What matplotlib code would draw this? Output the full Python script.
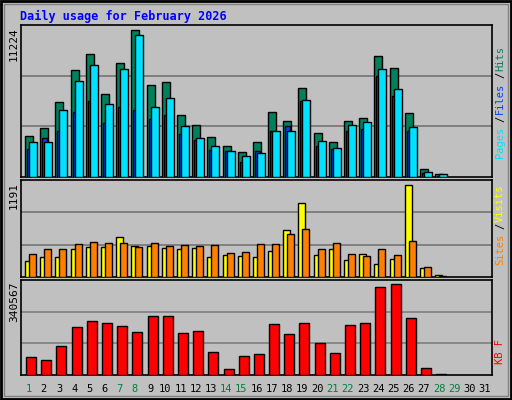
import matplotlib
matplotlib.use("Agg")
import matplotlib.pyplot as plt
import numpy as np

days = list(range(1, 32))
hits_y = [135,127,101,69,53,93,62,29,84,81,114,124,136,145,151,141,111,120,87,132,141,120,117,55,67,112,168,173]
files_y = [141,141,109,80,64,103,68,34,106,97,125,137,145,150,155,152,130,130,99,140,147,124,121,68,88,126,171,173]
pages_y = [148,137,130,111,100,122,106,109,118,114,133,139,149,150,161,150,130,125,100,145,148,130,128,75,95,130,172,175]
hits = [round((176-y)/147*11224) for y in hits_y]
files = [round((176-y)/147*11224) for y in files_y]
pages = [round((176-y)/147*11224) for y in pages_y]
visits_y = [260,256,256,248,246,246,236,245,245,247,248,247,256,254,255,256,250,229,202,254,248,259,253,263,258,184,267,274]
sites_y = [253,248,248,243,241,242,242,246,242,245,244,245,244,252,251,243,243,233,228,248,242,253,255,248,254,240,266,275]
visits = [round((276-y)/92*1191) for y in visits_y]
sites = [round((276-y)/92*1191) for y in sites_y]
kb_y = [357,360,346,327,321,323,326,332,316,316,333,331,352,369,356,354,324,334,323,343,353,325,323,287,284,318,368,374]
kb = [round((375-y)/91*340567) for y in kb_y]
green_days = [1,7,8,14,15,21,22,28,29]

BG = "#C0C0C0"
fig = plt.figure(figsize=(5.12, 4.0), dpi=100, facecolor=BG)
W, H = 512, 400
def ax_at(x0, y0, x1, y1):
    ax = fig.add_axes([x0/W, 1-y1/H, (x1-x0)/W, (y1-y0)/H])
    ax.set_facecolor(BG)
    ax.set_xlim(0.5, 31.5)
    ax.set_xticks([]); ax.set_yticks([])
    for s in ax.spines.values():
        s.set_color("black"); s.set_linewidth(1.2)
    return ax

slot = 15.2
def bars(ax, vals, l, r, color, top):
    n = len(vals)
    x = np.arange(1, n+1) - 0.5 + (l+r)/2/slot
    ax.bar(x, vals, width=(r-l)/slot, color=color, edgecolor="black", linewidth=1, zorder=3)
    ax.set_ylim(0, top)
    for f in (1/3, 2/3):
        ax.axhline(top*f, color="#808080", lw=1.2, zorder=1)

mono = "DejaVu Sans Mono"
ax1 = ax_at(21, 25, 492, 177)
top1 = max(hits)*152/147
bars(ax1, hits, 4, 12, "#00805C", top1)
bars(ax1, pages, 6, 11, "#0040FF", top1)
bars(ax1, files, 8, 16, "#00E0FF", top1)
ax2 = ax_at(21, 180, 492, 277)
top2 = max(visits)*97/92
bars(ax2, visits, 4, 11, "#FFFF00", top2)
bars(ax2, sites, 8, 15, "#FF8000", top2)
ax3 = ax_at(21, 280, 492, 375)
top3 = max(kb)*95/91
bars(ax3, kb, 5, 15, "#FF0000", top3)

fig.text(20/W, 1-16/H, "Daily usage for February 2026", color="#0000FF", family=mono,
         fontsize=8.5, fontweight="bold", va="center")
for y, v in ((27, max(hits)), (182, max(visits)), (282, max(kb))):
    fig.text(14/W, 1-y/H, str(v), rotation=90, family=mono, fontsize=8, ha="center", va="top")

def rlabel(ycenter, parts):
    total = sum(len(p[0]) for p in parts)
    ch = 7.2
    y = ycenter + total*ch/2
    for t, c in parts:
        fig.text(500/W, 1-y/H, t, rotation=90, color=c, family=mono, fontsize=7.5,
                 ha="center", va="bottom")
        y -= len(t)*ch
rlabel(100, [("Pages", "#00E0FF"), ("/", "black"), ("Files", "#0040FF"), ("/", "black"), ("Hits", "#00805C")])
rlabel(222, [("Sites", "#FF8000"), ("/", "black"), ("Visits", "#FFFF00")])
rlabel(350, [("KB F", "#FF0000")])

for d in days:
    xp = 21 + (d-0.5)*slot
    fig.text(xp/W, 1-389/H, str(d), color="#008040" if d in green_days else "black",
             family=mono, fontsize=7.5, ha="center", va="center")

for (x0, y0, x1, y1, c, lw) in ((1, 1, 511, 399, "black", 2), (4, 4, 508, 396, "#808080", 1)):
    fig.add_artist(plt.Rectangle((x0/W, 1-y1/H), (x1-x0)/W, (y1-y0)/H, fill=False,
                                 edgecolor=c, lw=lw, transform=fig.transFigure))
fig.savefig("out.png", dpi=100, facecolor=BG)
